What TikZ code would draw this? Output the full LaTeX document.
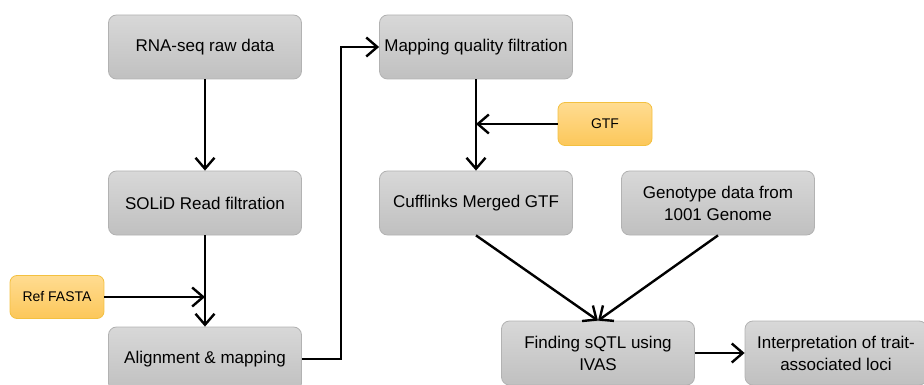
\documentclass[tikz,border=0pt]{standalone}
\usepackage{fontspec}
\setmainfont{Liberation Sans}
\usetikzlibrary{arrows.meta}

\definecolor{boxtop}{HTML}{D8D8D8}
\definecolor{boxbot}{HTML}{C0C0C0}
\definecolor{boxline}{HTML}{B2B2B2}
\definecolor{inputtop}{HTML}{FFDC91}
\definecolor{inputbot}{HTML}{FCC75A}
\definecolor{inputline}{HTML}{F3C040}

\begin{document}
\begin{tikzpicture}[
  x=1pt, y=-1pt,
  stage/.style={rectangle, rounded corners=8pt, draw=boxline, line width=0.8pt,
    top color=boxtop, bottom color=boxbot, minimum width=193pt, minimum height=64pt,
    align=center, font=\fontsize{17}{22}\selectfont, inner sep=2pt},
  source/.style={rectangle, rounded corners=7pt, draw=inputline, line width=0.8pt,
    top color=inputtop, bottom color=inputbot, minimum width=94pt, minimum height=43pt,
    font=\fontsize{14}{17}\selectfont, inner sep=2pt},
  flow/.style={draw, line width=2.4pt, -{Straight Barb[length=11pt,width=19pt,line width=2.4pt]}}
]
  \useasboundingbox (0,0) rectangle (924,385);

  \node[stage] (raw) at (205,47) {RNA-seq raw data};
  \node[stage] (solid) at (205,203) {SOLiD Read filtration};
  \node[stage] (align) at (205,359) {Alignment \& mapping};
  \node[source] (fasta) at (57,297) {Ref FASTA};

  \node[stage] (mapq) at (476,47) {Mapping quality filtration};
  \node[source] (gtf) at (605,124) {GTF};
  \node[stage] (cuff) at (476,203) {Cufflinks Merged GTF};
  \node[stage] (geno) at (718,203) {Genotype data from\\1001 Genome};

  \node[stage] (sqtl) at (598,353) {Finding sQTL using\\IVAS};
  \node[stage, minimum width=182pt] (loci) at (836,353) {Interpretation of trait-\\associated loci};

  \coordinate (fjoin) at (205,297);
  \coordinate (gjoin) at (476,124);

  % left column
  \draw[flow] (raw) -- (solid);
  \draw[flow] (solid) -- (align);
  \draw[flow] (fasta) -- (fjoin);

  % across to the second column
  \draw[flow] (align.east) -- ++(39,0) |- (mapq.west);

  % second column
  \draw[flow] (mapq) -- (cuff);
  \draw[flow] (gtf) -- (gjoin);
  \draw[flow] (cuff.south) -- (sqtl.north);
  \draw[flow] (geno.south) -- (sqtl.north);
  \draw[flow] (sqtl) -- (loci);
\end{tikzpicture}
\end{document}
